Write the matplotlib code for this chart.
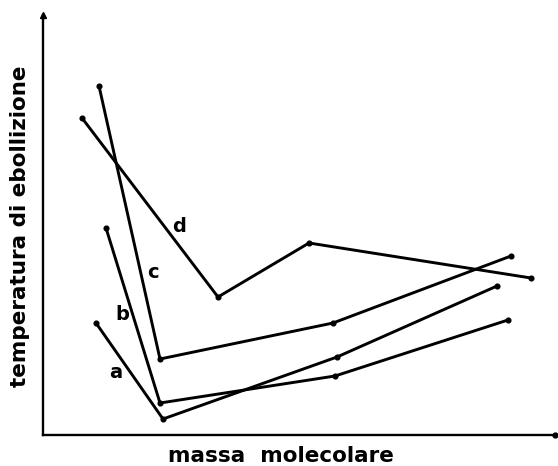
import matplotlib
matplotlib.use("Agg")
import matplotlib.pyplot as plt

# values (arbitrary units, origin at the axis corner)
a_x = [53, 120, 294, 454]
a_y = [112, 16, 78, 149]

b_x = [63, 117, 292, 465]
b_y = [207, 32, 59, 115]

c_x = [56, 117, 290, 468]
c_y = [349, 76, 112, 179]

d_x = [39, 175, 266, 488]
d_y = [317, 138, 192, 157]

labels = ["a", "b", "c", "d"]
label_pos = [(73, 62), (79, 120), (110, 163), (136, 208)]

fig = plt.figure(figsize=(5.58, 4.66), dpi=100)
# axes box: pixel x 43..555, y 15..435
ax = fig.add_axes([43 / 558, 31 / 466, 512 / 558, 420 / 466])
ax.set_xlim(0, 512)
ax.set_ylim(0, 420)

for xs, ys in [(a_x, a_y), (b_x, b_y), (c_x, c_y), (d_x, d_y)]:
    ax.plot(xs, ys, color="black", linewidth=2.1, marker="o", markersize=3.4,
            solid_joinstyle="miter")

for lab, (x, y) in zip(labels, label_pos):
    ax.text(x, y, lab, fontsize=14, fontweight="bold", ha="center", va="center")

# axes look like hand drawn arrows
ax.spines["top"].set_visible(False)
ax.spines["right"].set_visible(False)
ax.spines["left"].set_linewidth(1.7)
ax.spines["bottom"].set_linewidth(1.7)
ax.set_xticks([])
ax.set_yticks([])
ax.plot(0, 1, marker="^", color="black", markersize=4, transform=ax.transAxes, clip_on=False)
ax.plot(1, 0, marker="o", color="black", markersize=3.5, transform=ax.transAxes, clip_on=False)

fig.text(281 / 558, 1 - 456 / 466, "massa  molecolare", fontsize=15.5, fontweight="bold",
         ha="center", va="center")
fig.text(20 / 558, 1 - 226 / 466, "temperatura di ebollizione", fontsize=15.5, fontweight="bold",
         ha="center", va="center", rotation=90)

fig.savefig("out.png", dpi=100)
